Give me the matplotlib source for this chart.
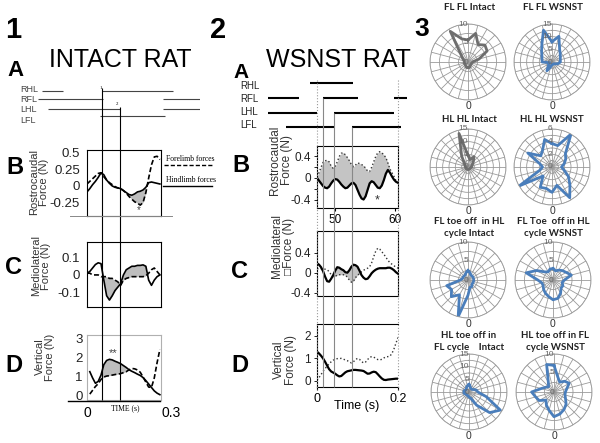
import numpy as np
import matplotlib
matplotlib.use("Agg")
import matplotlib.pyplot as plt
from matplotlib.lines import Line2D

plt.rcParams['font.family'] = ['Liberation Sans', 'DejaVu Sans']

W, H = 600, 443

# ─── Panel 1: intact rat (time grid 0 .. 0.26 s) ───────────────────────────
t1 = np.linspace(0, 0.26, 27)
rc_fore_intact = [0.03, 0.07, 0.11, 0.15, 0.19, 0.20, 0.14, 0.09, 0.05, 0.02, -0.01, -0.03, -0.04,
                  -0.07, -0.11, -0.16, -0.20, -0.24, -0.26, -0.29, -0.25, -0.10, 0.12, 0.32, 0.44, 0.45, 0.40]
rc_hind_intact = [-0.09, -0.04, 0.02, 0.07, 0.13, 0.20, 0.17, 0.09, 0.04, 0.00, -0.02, -0.03, -0.04,
                  -0.07, -0.10, -0.13, -0.14, -0.12, -0.09, -0.08, -0.06, -0.02, 0.05, 0.06, 0.05, 0.04, 0.03]
ml_fore_intact = [0.01, 0.01, 0.00, 0.00, 0.00, -0.01, -0.01, -0.01, -0.02, -0.02, -0.03, -0.04, -0.06,
                  -0.03, -0.02, -0.015, -0.01, -0.01, -0.01, -0.01, -0.01, -0.005, 0.01, 0.03, 0.04, 0.02, 0.00]
ml_hind_intact = [0.01, 0.02, 0.04, 0.06, 0.07, 0.065, -0.03, -0.12, -0.145, -0.12, -0.09, -0.07, -0.05,
                  0.00, 0.03, 0.04, 0.05, 0.05, 0.055, 0.055, 0.058, 0.05, -0.03, -0.06, -0.03, -0.01, 0.00]
vt_fore_intact = [np.nan, 0.05, 0.25, 0.45, 0.60, 0.82, 0.95, 1.00, 1.02, 1.05, 1.08, 1.10, 1.13,
                  1.18, 1.23, 1.33, 1.40, 1.38, 1.32, 1.20, 0.95, 0.68, 0.42, 0.40, 0.90, 1.70, 2.40]
vt_hind_intact = [np.nan, 1.23, 0.90, 0.62, 0.72, 1.05, 1.60, 1.82, 1.88, 1.85, 1.78, 1.72, 1.65,
                  1.55, 1.45, 1.33, 1.25, 1.18, 1.10, 1.03, 0.92, 0.76, 0.58, 0.40, 0.22, 0.10, 0.02]

# stance phases (s) for gait diagram
gait_limbs = ['RHL', 'RFL', 'LHL', 'LFL']
gait_intact = {
    'RHL': [(-0.161, -0.086), (0.054, 0.307)],
    'RFL': [(-0.175, 0.057), (0.271, 0.404)],
    'LHL': [(-0.139, 0.118), (0.271, 0.404)],
    'LFL': [(0.046, 0.279)],
}
events_intact = [0.054, 0.118]

# ─── Panel 2: WSNST rat (time grid 0 .. 0.2 s) ─────────────────────────────
t2 = np.linspace(0, 0.2, 41)
rc_fore_wsnst = [0.02, 0.10, 0.20, 0.29, 0.32, 0.33, 0.30, 0.22, 0.18, 0.22, 0.30, 0.40, 0.46, 0.47,
                 0.43, 0.38, 0.32, 0.25, 0.21, 0.24, 0.28, 0.27, 0.25, 0.23, 0.18, 0.13, 0.12, 0.20,
                 0.30, 0.40, 0.47, 0.49, 0.47, 0.43, 0.38, 0.28, 0.17, 0.10, 0.03, -0.05, -0.09]
rc_hind_wsnst = [0.00, -0.05, -0.10, -0.15, -0.18, -0.19, -0.16, -0.10, -0.05, -0.02, -0.03, -0.07,
                 -0.12, -0.16, -0.19, -0.18, -0.14, -0.10, -0.09, -0.13, -0.22, -0.31, -0.38, -0.40,
                 -0.34, -0.22, -0.10, -0.06, -0.08, -0.13, -0.18, -0.19, -0.14, -0.04, 0.08, 0.15,
                 0.10, 0.03, -0.03, -0.07, -0.09]
ml_fore_wsnst = [0.08, 0.08, 0.08, 0.08, 0.07, 0.06, 0.02, -0.04, -0.08, -0.07, -0.05, -0.04, -0.04,
                 -0.04, -0.05, -0.09, -0.15, -0.19, -0.17, -0.10, -0.05, -0.02, 0.02, 0.05, 0.07, 0.09,
                 0.12, 0.20, 0.32, 0.43, 0.49, 0.47, 0.42, 0.37, 0.31, 0.25, 0.20, 0.17, 0.14, 0.11, 0.09]
ml_hind_wsnst = [0.19, 0.16, 0.11, 0.03, -0.08, -0.17, -0.18, -0.12, -0.05, 0.04, 0.11, 0.10, 0.07,
                 0.05, 0.01, 0.00, 0.05, 0.12, 0.16, 0.15, 0.12, 0.04, -0.05, -0.10, -0.13, -0.12,
                 -0.07, -0.01, 0.03, 0.06, 0.08, 0.09, 0.09, 0.09, 0.09, 0.10, 0.10, 0.08, 0.05, 0.01, -0.02]
vt_fore_wsnst = [0.03, 0.15, 0.28, 0.43, 0.55, 0.66, 0.76, 0.85, 0.92, 0.96, 0.99, 1.00, 1.00, 0.97,
                 0.93, 0.90, 0.84, 0.80, 0.85, 0.95, 1.00, 0.96, 0.86, 0.80, 0.84, 0.95, 1.05, 1.08,
                 1.06, 1.00, 0.95, 0.93, 0.96, 1.02, 1.07, 1.08, 1.10, 1.22, 1.42, 1.68, 1.93]
vt_hind_wsnst = [1.30, 1.22, 1.12, 1.00, 0.85, 0.68, 0.52, 0.42, 0.37, 0.32, 0.25, 0.20, 0.22, 0.30,
                 0.38, 0.43, 0.45, 0.47, 0.49, 0.49, 0.48, 0.47, 0.46, 0.44, 0.38, 0.32, 0.33, 0.38,
                 0.41, 0.39, 0.30, 0.20, 0.11, 0.05, 0.04, 0.06, 0.07, 0.08, 0.09, 0.10, 0.10]

gait_wsnst = {
    'RHL': [(-0.017, 0.089)],
    'RFL': [(-0.121, -0.044), (0.015, 0.101), (0.190, 0.222)],
    'LHL': [(-0.121, 0.0), (0.042, 0.190)],
    'LFL': [(-0.077, 0.044), (0.086, 0.207)],
}
events_wsnst = [0.015, 0.042, 0.086]
events_wsnst_dotted = [0.0, 0.2]

# ─── Panel 3: phase radar charts (24 bins, clockwise from top) ──────────────
fl_fl_intact = [5.8, 7.8, 5.3, 6.3, 5.8, 3.0, 1.2, 1.0, 1.0, 1.0, 1.2, 1.5,
                1.5, 1.5, 1.2, 1.0, 1.0, 1.0, 1.0, 1.0, 1.5, 2.5, 9.3, 6.3]
fl_fl_wsnst = [8.0, 10.5, 6.0, 4.6, 3.8, 3.4, 3.3, 2.5, 1.5, 1.0, 1.0, 1.0,
               1.0, 2.0, 4.0, 2.0, 1.5, 1.0, 3.9, 4.1, 4.6, 5.8, 8.0, 13.0]
hl_hl_intact = [4.6, 3.0, 4.7, 3.0, 2.0, 1.5, 1.5, 1.2, 1.0, 1.0, 1.0, 1.0,
                1.0, 1.0, 1.0, 1.0, 1.0, 1.0, 1.0, 1.0, 1.5, 2.0, 5.0, 13.7]
hl_hl_wsnst = [3.7, 3.5, 6.0, 3.0, 2.5, 2.0, 1.5, 2.0, 3.0, 4.0, 5.6, 3.0,
               4.0, 3.5, 3.7, 2.0, 6.0, 2.0, 1.5, 2.0, 4.4, 2.5, 3.0, 4.5]
fl_in_hl_intact = [2.5, 2.0, 1.5, 1.5, 1.5, 1.5, 1.5, 1.5, 1.5, 1.5, 2.0, 2.0,
                   4.0, 10.0, 4.5, 6.2, 5.0, 5.8, 2.0, 1.5, 1.5, 1.5, 1.5, 2.0]
fl_in_hl_wsnst = [3.0, 2.5, 3.0, 3.5, 4.0, 5.0, 3.0, 2.5, 3.0, 3.0, 4.0, 5.0,
                  5.2, 4.5, 4.0, 3.5, 3.0, 3.0, 4.0, 7.3, 5.0, 3.0, 2.5, 3.0]
hl_in_fl_intact = [3.0, 2.0, 1.5, 1.5, 2.0, 3.0, 3.5, 7.0, 14.3, 11.5, 6.0, 2.5,
                   2.0, 1.5, 1.5, 1.5, 1.5, 2.0, 2.0, 2.0, 1.5, 1.5, 2.0, 2.5]
hl_in_fl_wsnst = [7.0, 4.0, 3.0, 4.0, 4.6, 3.5, 3.0, 3.0, 3.5, 4.5, 5.3, 6.0,
                  6.5, 5.0, 4.0, 3.0, 4.5, 5.0, 5.9, 3.5, 2.5, 2.0, 3.0, 7.5]

GRAY_POLY = '#6e6e6e'
BLUE_POLY = '#4a7ebb'


def px_rect(x0, y0, x1, y1):
    return [x0 / W, 1 - y1 / H, (x1 - x0) / W, (y1 - y0) / H]


fig = plt.figure(figsize=(6, 4.43), dpi=100)


def ftext(x, y, s, **kw):
    kw.setdefault('ha', 'center')
    kw.setdefault('va', 'center')
    fig.text(x / W, 1 - y / H, s, **kw)


def fline(xs, ys, **kw):
    fig.add_artist(Line2D([x / W for x in xs], [1 - y / H for y in ys], **kw))


def force_axes(rect, xlim, ylim, yticks, ylabels, spine_color='k', pad=5, size=9.5, ticklen=0):
    ax = fig.add_axes(px_rect(*rect))
    ax.set_xlim(xlim)
    ax.set_ylim(ylim)
    ax.set_xticks([])
    ax.set_yticks(yticks, ylabels)
    ax.tick_params(axis='y', length=ticklen, width=0.6, pad=pad, labelsize=size, labelcolor='#222')
    ax.patch.set_alpha(0)
    for s in ax.spines.values():
        s.set_color(spine_color)
        s.set_linewidth(0.8)
    return ax


# ── big headings
ftext(13, 30, '1', fontsize=21, fontweight='bold')
ftext(120, 60, 'INTACT RAT', fontsize=18)
ftext(16, 71, 'A', fontsize=16, fontweight='bold')
ftext(218, 30, '2', fontsize=21, fontweight='bold')
ftext(338, 60, 'WSNST RAT', fontsize=18)
ftext(241, 72, 'A', fontsize=15, fontweight='bold')
ftext(422, 29, '3', fontsize=19, fontweight='bold')
for x, y, s in [(15, 168, 'B'), (13, 268, 'C'), (14, 365, 'D'),
                (241, 166, 'B'), (240, 272, 'C'), (240, 365, 'D')]:
    ftext(x, y, s, fontsize=17, fontweight='bold')

# ── panel 1 force plots
xl1 = (0, 0.264)
axB = force_axes((87, 150, 161, 216), xl1, (-0.455, 0.545), [0.5, 0.25, 0, -0.25],
                 ['0.5', '0.25', '0', '-0.25'])
axB.plot(t1, rc_fore_intact, color='k', lw=1.2, ls=(0, (3, 1.5)))
axB.plot(t1, rc_hind_intact, color='k', lw=1.2)
axB.fill_between(t1, rc_fore_intact, rc_hind_intact, where=(t1 >= 0.135) & (t1 <= 0.215),
                 color='#bdbdbd', lw=0)
axB.text(0.186, -0.36, '*', fontsize=7, ha='center', va='center', color='#444')
fline([70, 172], [216, 216], color='#888', lw=0.7)

axC = force_axes((87, 242, 161, 307), xl1, (-0.185, 0.19), [0.1, 0, -0.1], ['0.1', '0', '-0.1'])
axC.plot(t1, ml_fore_intact, color='k', lw=1.2, ls=(0, (3, 1.5)))
axC.plot(t1, ml_hind_intact, color='k', lw=1.2)
axC.fill_between(t1, ml_fore_intact, ml_hind_intact,
                 where=((t1 >= 0.055) & (t1 <= 0.125)) | ((t1 >= 0.125) & (t1 <= 0.215)),
                 color='#bdbdbd', lw=0)

axD = force_axes((87, 335, 161, 400), xl1, (-0.26, 3.16), [0, 1, 2, 3], ['0', '1', '2', '3'],
                 spine_color='#b0b0b0', pad=3)
axD.plot(t1, vt_fore_intact, color='k', lw=1.2, ls=(0, (3, 1.5)))
axD.plot(t1, vt_hind_intact, color='k', lw=1.2)
axD.fill_between(t1, vt_fore_intact, vt_hind_intact, where=(t1 >= 0.05) & (t1 <= 0.145),
                 color='#bdbdbd', lw=0)
axD.text(0.093, 2.2, '**', fontsize=8, ha='center', va='center', color='#444')
fline([68, 160], [401, 401], color='k', lw=1.0)
axD.text(0.0, -0.2, '0', transform=axD.get_xaxis_transform(), ha='center', va='center', fontsize=10)
axD.text(0.3, -0.2, '0.3', transform=axD.get_xaxis_transform(), ha='center', va='center', fontsize=10)
ftext(125, 408, 'TIME (s)', fontsize=5.5, family='Liberation Serif')

ftext(39, 182, 'Rostrocaudal\nForce (N)', rotation=90, fontsize=8, color='#333', linespacing=1.0)
ftext(41, 266, 'Mediolateral\nForce (N)', rotation=90, fontsize=8, color='#333', linespacing=1.0)
ftext(45, 357, 'Vertical\nForce (N)', rotation=90, fontsize=8, color='#333', linespacing=1.0)

# legend
fline([164, 212], [165, 165], color='k', lw=1.0, ls=(0, (3, 1.5)))
fline([163, 212], [186, 186], color='k', lw=1.0)
ftext(166, 159, 'Forelimb forces', ha='left', fontsize=5.5, family='Liberation Serif')
ftext(166, 180, 'Hindlimb forces', ha='left', fontsize=5.5, family='Liberation Serif')

# gait diagram + event lines (overlay, x in seconds, y in pixels)
ov1 = fig.add_axes(px_rect(0, 80, 200, 405))
ov1.set_xlim((0 - 87) / 280, (200 - 87) / 280)
ov1.set_ylim(405, 80)
ov1.axis('off')
rows1 = dict(zip(gait_limbs, [91, 99, 109, 116]))
lab1 = dict(zip(gait_limbs, [90, 100, 110, 121]))
for limb in gait_limbs:
    for a, b in gait_intact[limb]:
        ov1.hlines(rows1[limb], a, b, color='#444', lw=0.8)
    ftext(20, lab1[limb], limb, ha='left', fontsize=6.5, color='#444')
ov1.vlines(events_intact, [88, 107], 400, color='k', lw=0.8)
ftext(101, 88, '1', fontsize=3.5, family='Liberation Serif')
ftext(117, 104, '2', fontsize=3.5, family='Liberation Serif')

# ── panel 2 force plots
xl2 = (0, 0.2)
bB = force_axes((317, 146, 398, 208), xl2, (-0.558, 0.595), [0.4, 0, -0.4], ['0.4', '0', '-0.4'],
                pad=2, size=8.5, ticklen=2.5)
bB.set_yticks([-0.2, 0.2], minor=True)
bB.tick_params(axis='y', which='minor', length=2)
bB.fill_between(t2, rc_fore_wsnst, rc_hind_wsnst, where=t2 <= 0.18, color='#c4c4c4', lw=0)
bB.plot(t2, rc_fore_wsnst, color='#333', lw=1.0, ls=':')
bB.plot(t2, rc_hind_wsnst, color='k', lw=1.6)
bB.text(0.148, -0.42, '*', fontsize=9, ha='center', va='center', color='#333')
sec = bB.secondary_xaxis('bottom', functions=(lambda t: 47 + t * 67.5, lambda p: (p - 47) / 67.5))
sec.set_xticks([50, 60], ['50', '60'])
sec.tick_params(length=2, labelsize=8.5, pad=2)
sec.spines['bottom'].set_visible(False)

bC = force_axes((317, 231, 398, 296), xl2, (-0.466, 0.834), [0.4, 0, -0.4], ['0.4', '0', '-0.4'],
                pad=2, size=8.5, ticklen=2.5)
bC.fill_between(t2, ml_fore_wsnst, ml_hind_wsnst, where=(t2 >= 0.035) & (t2 <= 0.105),
                color='#c4c4c4', lw=0)
bC.plot(t2, ml_fore_wsnst, color='#333', lw=1.0, ls=':')
bC.plot(t2, ml_hind_wsnst, color='k', lw=1.6)

bD = force_axes((317, 324, 398, 387), xl2, (-0.27, 2.53), [0, 1, 2], ['0', '1', '2'],
                pad=2, size=8.5, ticklen=2.5)
bD.spines['right'].set_visible(False)
bD.set_xticks([0, 0.2], ['0', '0.2'])
bD.tick_params(axis='x', length=2.5, labelsize=9, pad=2)
bD.plot(t2, vt_fore_wsnst, color='#333', lw=1.0, ls=':')
bD.plot(t2, vt_hind_wsnst, color='k', lw=1.6)
ftext(357, 406, 'Time (s)', fontsize=9)

ftext(281, 160, 'Rostrocaudal\nForce (N)', rotation=90, fontsize=8.5, color='#333', linespacing=1.0)
ftext(283, 246, 'Mediolateral\n\u25a1Force (N)', rotation=90, fontsize=8.5, color='#333',
      linespacing=1.0)
ftext(285, 360, 'Vertical\nForce (N)', rotation=90, fontsize=8.5, color='#333', linespacing=1.0)

ov2 = fig.add_axes(px_rect(205, 75, 410, 395))
ov2.set_xlim((205 - 317) / 405, (410 - 317) / 405)
ov2.set_ylim(395, 75)
ov2.axis('off')
rows2 = dict(zip(gait_limbs, [83, 98, 113, 127]))
lab2 = dict(zip(gait_limbs, [86, 99, 112, 125]))
for limb in gait_limbs:
    for a, b in gait_wsnst[limb]:
        ov2.hlines(rows2[limb], a, b, color='k', lw=1.5)
    ftext(240, lab2[limb], limb, ha='left', fontsize=7, color='#222')
ov2.vlines(events_wsnst, [98, 113, 127], 387, color='#888', lw=0.8)
ov2.vlines(events_wsnst_dotted, 80, 390, color='#999', lw=0.8, linestyles=':')

# ── panel 3 radars
theta = np.deg2rad(np.arange(24) * 15)
radars = [
    (468, 62, fl_fl_intact, 10, [0, 5, 10], 2.5, GRAY_POLY),
    (552, 62, fl_fl_wsnst, 15, [0, 5, 10, 15], 2.5, BLUE_POLY),
    (468, 167, hl_hl_intact, 15, [0, 5, 10, 15], 2.5, GRAY_POLY),
    (552, 167, hl_hl_wsnst, 6, [0, 2, 4, 6], 1, BLUE_POLY),
    (468, 280, fl_in_hl_intact, 10, [0, 5, 10], 2.5, BLUE_POLY),
    (553, 280, fl_in_hl_wsnst, 10, [0, 5, 10], 2.5, BLUE_POLY),
    (469, 392, hl_in_fl_intact, 15, [0, 5, 10, 15], 2.5, BLUE_POLY),
    (554, 392, hl_in_fl_wsnst, 10, [0, 5, 10], 2.5, BLUE_POLY),
]
for cx, cy, vals, rmax, rlabels, ring, col in radars:
    ax = fig.add_axes(px_rect(cx - 38, cy - 38, cx + 38, cy + 38), projection='polar')
    ax.set_theta_zero_location('N')
    ax.set_theta_direction(-1)
    ax.set_ylim(0, rmax)
    ax.set_xticks(theta)
    ax.set_xticklabels([])
    ax.set_yticks(np.arange(ring, rmax + 0.01, ring))
    ax.set_yticklabels([])
    ax.grid(color='#9a9a9a', lw=0.6)
    ax.spines['polar'].set_color('#9a9a9a')
    ax.spines['polar'].set_linewidth(0.6)
    ax.plot(np.append(theta, theta[0]), np.append(vals, vals[0]), color=col, lw=2)
    for r in rlabels:
        ax.text(0, r, str(r), ha='right', va='center', fontsize=6, color='#666')
    ftext(cx, cy + 44, '0', fontsize=7.5, color='#333')

tfont = dict(fontsize=7, fontweight='bold', family='Lato', color='#222')
ftext(470, 7, 'FL FL Intact', **tfont)
ftext(553, 7, 'FL FL WSNST', **tfont)
ftext(469, 119, 'HL HL Intact', **tfont)
ftext(552, 119, 'HL HL WSNST', **tfont)
ftext(469, 221, 'FL toe off  in HL', **tfont)
ftext(469, 234, 'cycle Intact', **tfont)
ftext(553, 221, 'FL Toe  off in HL', **tfont)
ftext(553, 234, 'cycle WSNST', **tfont)
ftext(469, 335, 'HL toe off in', **tfont)
ftext(469, 347, 'FL cycle    Intact', **tfont)
ftext(555, 335, 'HL toe off in FL', **tfont)
ftext(555, 347, 'cycle WSNST', **tfont)

fig.savefig('out.png', dpi=100)
